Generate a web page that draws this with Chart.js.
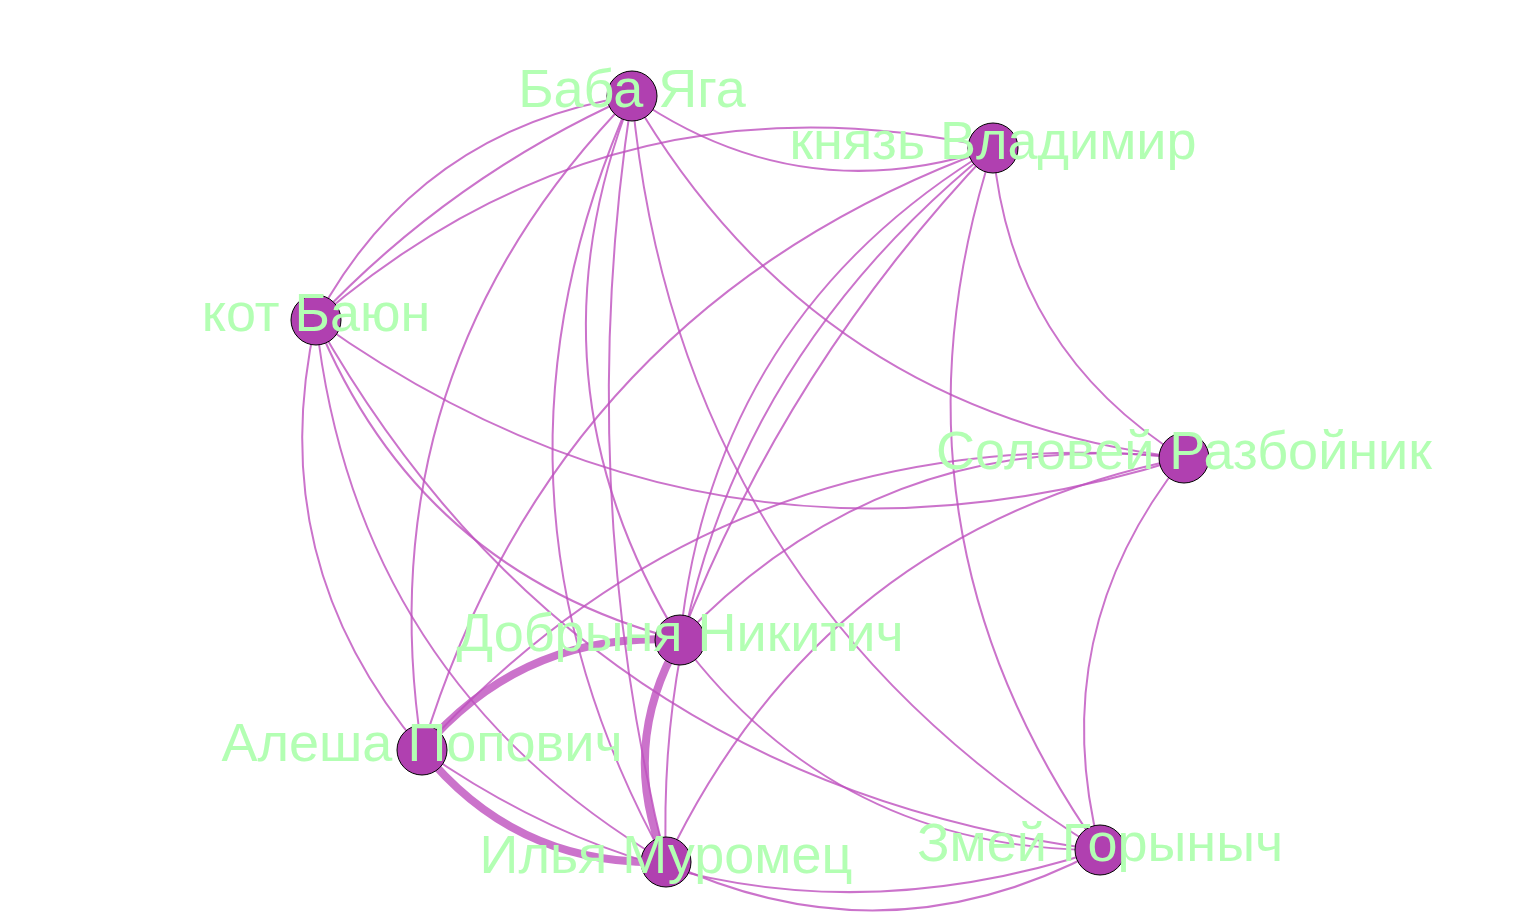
<!DOCTYPE html>
<html>
<head>
<meta charset="utf-8">
<script src="https://cdn.jsdelivr.net/npm/chart.js@4/dist/chart.umd.min.js"></script>
<style>
  html, body { margin: 0; padding: 0; background: #fff; }
  #wrap { width: 1524px; height: 924px; }
</style>
</head>
<body>
<div id="wrap"><canvas id="graph"></canvas></div>
<script>
// Node layout (pixel-like data units)
const nodeNames = ['Баба Яга', 'князь Владимир', 'кот Баюн', 'Соловей Разбойник',
                   'Добрыня Никитич', 'Алеша Попович', 'Илья Муромец', 'Змей Горыныч'];
const nodeX = [632, 993, 316, 1184, 680, 422, 666, 1100];
const nodeY = [96, 148, 320, 458, 640, 750, 862, 850];

// Edges: from, to, weight (thickness multiplier)
const edgeFrom   = [0, 0, 0, 0, 0, 0, 0, 0, 0, 1, 1, 1, 1, 1, 1, 1, 2, 2, 2, 2, 2, 3, 3, 3, 3, 4, 4, 4, 5, 5, 6];
const edgeTo     = [1, 2, 2, 3, 4, 5, 6, 6, 7, 2, 3, 4, 4, 5, 6, 7, 3, 4, 5, 6, 7, 4, 5, 6, 7, 5, 6, 7, 6, 7, 7];
const edgeWeight = [1, 1, 1, 1, 1, 1, 1, 1, 1, 1, 1, 1, 1, 1, 1, 1, 1, 1, 1, 1, 1, 1, 1, 1, 1, 4, 4, 1, 4, 1, 1];

const edgeColor = 'rgba(190, 80, 190, 0.8)';

const edgePlugin = {
    id: 'edges',
    beforeDatasetsDraw(chart) {
        const { ctx, scales: { x, y } } = chart;
        const seen = {};
        ctx.save();
        ctx.strokeStyle = edgeColor;
        ctx.lineCap = 'round';
        edgeFrom.forEach((f, i) => {
            const t = edgeTo[i];
            const key = f + '-' + t;
            const n = seen[key] = (seen[key] || 0) + 1;
            const x1 = x.getPixelForValue(nodeX[f]), y1 = y.getPixelForValue(nodeY[f]);
            const x2 = x.getPixelForValue(nodeX[t]), y2 = y.getPixelForValue(nodeY[t]);
            const dx = x2 - x1, dy = y2 - y1;
            const curv = n === 1 ? 0.25 : 0.1;
            const cx = (x1 + x2) / 2 - dy * curv;
            const cy = (y1 + y2) / 2 + dx * curv;
            ctx.lineWidth = 2 * edgeWeight[i];
            ctx.beginPath();
            ctx.moveTo(x1, y1);
            ctx.quadraticCurveTo(cx, cy, x2, y2);
            ctx.stroke();
        });
        ctx.restore();
    },
    afterDatasetsDraw(chart) {
        const { ctx, scales: { x, y } } = chart;
        ctx.save();
        ctx.fillStyle = '#b3ffb3';
        ctx.font = '54px "Liberation Sans", Arial, sans-serif';
        ctx.textAlign = 'center';
        ctx.textBaseline = 'middle';
        nodeNames.forEach((name, i) => {
            ctx.fillText(name, x.getPixelForValue(nodeX[i]), y.getPixelForValue(nodeY[i]) - 4);
        });
        ctx.restore();
    }
};

new Chart(document.getElementById('graph'), {
    type: 'scatter',
    data: {
        datasets: [{
            data: nodeX.map((v, i) => ({ x: v, y: nodeY[i] })),
            backgroundColor: '#b040b0',
            borderColor: '#000',
            borderWidth: 1,
            pointRadius: 25,
            pointHoverRadius: 25,
            clip: false
        }]
    },
    options: {
        responsive: true,
        maintainAspectRatio: false,
        animation: false,
        layout: { padding: 0, autoPadding: false },
        scales: {
            x: { type: 'linear', min: 0, max: 1524, display: false },
            y: { type: 'linear', min: 0, max: 924, reverse: true, display: false }
        },
        plugins: { legend: { display: false }, tooltip: { enabled: false } }
    },
    plugins: [edgePlugin]
});
</script>
</body>
</html>
